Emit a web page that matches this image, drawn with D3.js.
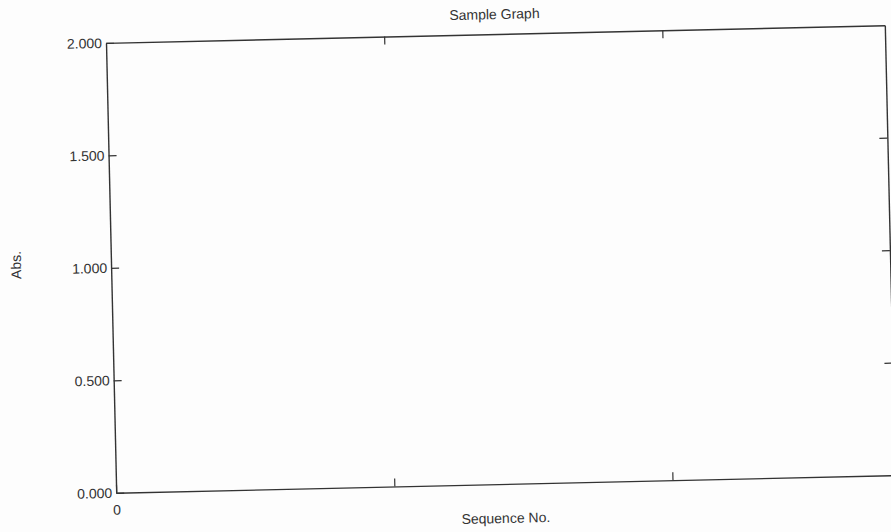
<!DOCTYPE html>
<html>
<head>
<meta charset="utf-8">
<script src="https://cdn.jsdelivr.net/npm/d3@7"></script>
<style>
	html, body { margin: 0; padding: 0; background: #fdfdfd; }
	svg { display: block; }
	text { font-family: "Liberation Sans", Arial, sans-serif; fill: #333; }
</style>
</head>
<body>
<svg id="chart" width="891" height="532"></svg>
<script>

// chart values (no data series are plotted in the original, only the frame)
const xDomain = [0, 16.8];
const xTicks = [0, 6, 12];
const xTickLabels = ['0', '', ''];
const yDomain = [0, 2];
const yTicks = [0, 0.5, 1, 1.5, 2];
const yTickLabels = ['0.000', '0.500', '1.000', '1.500', '2.000'];
const title = 'Sample Graph';
const xTitle = 'Sequence No.';
const yTitle = 'Abs.';

const width = 891, height = 532;
const margin = {left: 111, top: 34, right: 891 - 890, bottom: 532 - 484};
const plotW = width - margin.left - margin.right;
const plotH = height - margin.top - margin.bottom;

const svg = d3.select('#chart');

// the source is a scanned page, slightly turned
const g = svg.append('g')
	.attr('transform', 'rotate(-1.3, 501.5, 259)');

const x = d3.scaleLinear().domain(xDomain).range([0, plotW]);
const y = d3.scaleLinear().domain(yDomain).range([plotH, 0]);

const plot = g.append('g').attr('transform', `translate(${margin.left},${margin.top})`);

function styleAxis(sel) {
	sel.selectAll('path.domain').attr('stroke', '#333').attr('stroke-width', 1.4);
	sel.selectAll('.tick line').attr('stroke', '#333').attr('stroke-width', 1.2);
	sel.selectAll('.tick text')
		.style('font-family', '"Liberation Sans", Arial, sans-serif')
		.style('font-size', '14px')
		.attr('fill', '#333');
}

plot.append('g')
	.call(d3.axisLeft(y).tickValues(yTicks)
		.tickFormat((d, i) => yTickLabels[i])
		.tickSizeInner(-8).tickSizeOuter(0).tickPadding(4))
	.call(styleAxis);

plot.append('g')
	.attr('transform', `translate(${plotW},0)`)
	.call(d3.axisRight(y).tickValues(yTicks.slice(1, -1))
		.tickFormat('')
		.tickSizeInner(-8).tickSizeOuter(0))
	.call(styleAxis);

plot.append('g')
	.attr('transform', `translate(0,${plotH})`)
	.call(d3.axisBottom(x).tickValues(xTicks)
		.tickFormat((d, i) => xTickLabels[i])
		.tickSizeInner(-8).tickSizeOuter(0).tickPadding(12))
	.call(styleAxis);

plot.append('g')
	.call(d3.axisTop(x).tickValues(xTicks.slice(1))
		.tickFormat('')
		.tickSizeInner(-8).tickSizeOuter(0))
	.call(styleAxis);

g.append('text')
	.attr('x', 500).attr('y', 19)
	.attr('text-anchor', 'middle')
	.style('font-size', '14px')
	.text(title);

g.append('text')
	.attr('x', 500).attr('y', 523)
	.attr('text-anchor', 'middle')
	.style('font-size', '14px')
	.text(xTitle);

g.append('text')
	.attr('transform', 'translate(21,254) rotate(-90)')
	.attr('text-anchor', 'middle')
	.style('font-size', '14px')
	.text(yTitle);

</script>
</body>
</html>
